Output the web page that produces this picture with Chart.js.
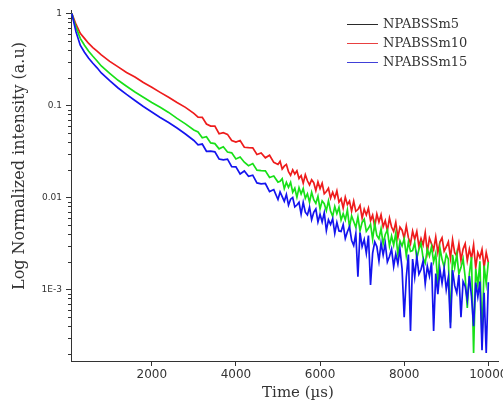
<!DOCTYPE html>
<html><head><meta charset="utf-8">
<script src="https://cdn.jsdelivr.net/npm/chart.js@4.4.1/dist/chart.umd.min.js"></script>
<style>html,body{margin:0;padding:0;background:#fff;overflow:hidden}</style>
</head><body>
<canvas id="c" width="503" height="405"></canvas>
<script>
const times = [100,150,200,300,400,500,600,700,800,1000,1200,1400,1600,1800,2000,2200,2400,2600,2800,3000,
3100,3200,3300,3400,3500,3600,3700,3800,3900,4000,4100,4200,4300,4400,4500,4600,4700,4800,4900,
5000,5050,5100,5150,5200,5250,5300,5350,5400,5450,
5500,5550,5600,5650,5700,5750,5800,5850,5900,5950,
6000,6050,6100,6150,6200,6250,6300,6350,6400,6450,
6500,6550,6600,6650,6700,6750,6800,6850,6900,6950,
7000,7050,7100,7150,7200,7250,7300,7350,7400,7450,
7500,7550,7600,7650,7700,7750,7800,7850,7900,7950,
8000,8050,8100,8150,8200,8250,8300,8350,8400,8450,
8500,8550,8600,8650,8700,8750,8800,8850,8900,8950,
9000,9050,9100,9150,9200,9250,9300,9350,9400,9450,
9500,9550,9600,9650,9700,9750,9800,9850,9900,9950,
10000];

const redValues = [1.0,0.87,0.76,0.61,0.537,0.473,0.427,0.389,0.355,0.302,0.263,0.229,0.204,0.178,0.158,0.139,0.123,0.108,0.0955,0.0822,
0.0748,0.0743,0.0630,0.0598,0.0596,0.0493,0.0506,0.0486,0.0417,0.0400,0.0416,0.0352,0.0349,0.0347,0.0293,0.0305,0.0270,0.0288,0.0241,
0.0229,0.0248,0.0204,0.0219,0.0229,0.0191,0.0174,0.0200,0.0180,0.0195,
0.0161,0.0173,0.0143,0.0177,0.0152,0.0137,0.0156,0.0145,0.0119,0.0148,
0.0125,0.0143,0.0110,0.0116,0.0126,0.00986,0.0114,0.00986,0.0118,0.00889,
0.00970,0.00766,0.0101,0.00836,0.00916,0.00710,0.00912,0.00708,0.00740,0.00820,
0.00597,0.00746,0.00646,0.00766,0.00560,0.00643,0.00481,0.00662,0.00542,0.00649,
0.00482,0.00560,0.00435,0.00597,0.00478,0.00428,0.00537,0.00366,0.00476,0.00441,
0.00361,0.00491,0.00366,0.00314,0.00432,0.00351,0.00427,0.00294,0.00358,0.00305,
0.00415,0.00255,0.00361,0.00313,0.00270,0.00372,0.00252,0.00328,0.00365,0.00261,
0.00290,0.00330,0.00220,0.00348,0.00252,0.00232,0.00314,0.00207,0.00275,0.00315,
0.00206,0.00275,0.00218,0.00305,0.00172,0.00252,0.00221,0.00273,0.00174,0.00252,
0.00197];

const greenValues = [1.0,0.83,0.71,0.537,0.452,0.389,0.343,0.305,0.269,0.224,0.188,0.162,0.140,0.123,0.108,0.0955,0.0841,0.0724,0.0631,0.0543,
0.0515,0.0446,0.0458,0.0392,0.0385,0.0338,0.0356,0.0312,0.0306,0.0262,0.0276,0.0242,0.0222,0.0234,0.0198,0.0196,0.0195,0.0165,0.0171,
0.0147,0.0150,0.0160,0.0125,0.0146,0.0129,0.0146,0.0114,0.0126,0.0101,
0.0128,0.0109,0.0125,0.00980,0.0110,0.00891,0.0114,0.00946,0.00863,0.0103,
0.00752,0.00920,0.00857,0.00719,0.00918,0.00714,0.00624,0.00800,0.00668,0.00782,
0.00569,0.00667,0.00573,0.00731,0.00476,0.00631,0.00548,0.00473,0.00614,0.00434,
0.00536,0.00581,0.00429,0.00462,0.00512,0.00352,0.00522,0.00386,0.00356,0.00458,
0.00313,0.00397,0.00444,0.00298,0.00382,0.00305,0.00409,0.00240,0.00337,0.00297,
0.00356,0.00234,0.00328,0.00260,0.00265,0.00322,0.00218,0.00272,0.00319,0.00220,
0.00194,0.00274,0.00231,0.00292,0.00200,0.00247,0.00112,0.00282,0.00213,0.00176,
0.00241,0.00214,0.000437,0.00238,0.00173,0.00242,0.00148,0.00173,0.00215,0.00136,
0.000631,0.00150,0.00225,0.000204,0.00168,0.00111,0.00203,0.000282,0.00182,0.00116,
0.00199];

const blueValues = [1.0,0.79,0.63,0.452,0.38,0.327,0.288,0.257,0.226,0.186,0.155,0.132,0.1135,0.0977,0.0851,0.0741,0.0653,0.0569,0.049,0.0417,
0.0374,0.0381,0.0318,0.0319,0.0314,0.0262,0.0256,0.0261,0.0216,0.0215,0.0180,0.0194,0.0170,0.0175,0.0144,0.0141,0.0142,0.0116,0.0122,
0.00951,0.0115,0.0102,0.00908,0.0108,0.00828,0.00959,0.0100,0.00789,0.00828,
0.00885,0.00658,0.00883,0.00692,0.00646,0.00783,0.00573,0.00689,0.00750,0.00541,
0.00658,0.00541,0.00684,0.00437,0.00573,0.00509,0.00589,0.00407,0.00536,0.00433,
0.00428,0.00508,0.00358,0.00425,0.00483,0.00343,0.00301,0.00403,0.00138,0.00416,
0.00292,0.00349,0.00248,0.00386,0.00112,0.00248,0.00330,0.00293,0.00204,0.00319,
0.00237,0.00318,0.00199,0.00228,0.00275,0.00178,0.00243,0.00190,0.00275,0.00167,
0.000501,0.00136,0.00240,0.000355,0.00214,0.00137,0.00229,0.00147,0.00165,0.00205,
0.00115,0.00179,0.00140,0.00197,0.000355,0.00149,0.000889,0.00165,0.00117,0.00169,
0.000998,0.00136,0.000380,0.00162,0.00110,0.000918,0.00144,0.000501,0.00122,0.00108,
0.000769,0.00140,0.000839,0.000398,0.00119,0.000834,0.00122,0.000219,0.000923,0.000204,
0.00120];

const xTicks = [2000,4000,6000,8000,10000];
const yMajorTicks = [1,0.1,0.01,0.001];
const yTickLabels = ['1','0.1','0.01','1E-3'];
const legendNames = ['NPABSSm5','NPABSSm10','NPABSSm15'];
const legendColors = ['#2a2a2a','#e84040','#4040d8'];
const xTitle = 'Time (\u00b5s)';
const yTitle = 'Log Normalized intensity (a.u)';

const AX = '#333';
const pts = vals => times.map((t,i)=>({x:t,y:vals[i]}));

const minorTicks = {
  id:'minorTicks',
  afterDraw(chart){
    const ys = chart.scales.y, ctx = chart.ctx;
    ctx.save(); ctx.strokeStyle = AX; ctx.lineWidth = 1;
    ys.ticks.forEach(t=>{
      if(!t.major){
        const py = Math.round(ys.getPixelForValue(t.value)) + 0.5;
        ctx.beginPath(); ctx.moveTo(ys.right-3, py); ctx.lineTo(ys.right, py); ctx.stroke();
      }
    });
    ctx.restore();
  }
};

const titles = {
  id:'titles',
  afterDraw(chart){
    const ctx = chart.ctx;
    ctx.save();
    ctx.fillStyle = '#333';
    ctx.font = '15px "DejaVu Serif"';
    ctx.textAlign = 'center'; ctx.textBaseline = 'middle';
    ctx.fillText(xTitle, 298, 393);
    ctx.translate(20, 166); ctx.rotate(-Math.PI/2);
    ctx.font = '16px "DejaVu Serif"';
    ctx.fillText(yTitle, 0, 0);
    ctx.restore();
  }
};

const legendPlug = {
  id:'legendPlug',
  afterDraw(chart){
    const ctx = chart.ctx;
    ctx.save();
    ctx.font = '13px "DejaVu Serif"';
    ctx.textAlign = 'left'; ctx.textBaseline = 'middle';
    legendNames.forEach((n,i)=>{
      const y = 24 + i*19;
      ctx.strokeStyle = legendColors[i]; ctx.lineWidth = 1;
      ctx.beginPath(); ctx.moveTo(347, y+0.5); ctx.lineTo(378, y+0.5); ctx.stroke();
      ctx.fillStyle = '#333';
      ctx.fillText(n, 383, y+1);
    });
    ctx.restore();
  }
};

new Chart(document.getElementById('c'), {
  type:'line',
  data:{
    datasets:[
      {label:'NPABSSm10', data:pts(redValues), borderColor:'#ee1c1c', borderWidth:1.7, order:3},
      {label:'NPABSSm5', data:pts(greenValues), borderColor:'#18e018', borderWidth:1.7, order:2},
      {label:'NPABSSm15', data:pts(blueValues), borderColor:'#1414ee', borderWidth:1.7, order:1}
    ]
  },
  options:{
    responsive:false, animation:false, devicePixelRatio:1,
    layout:{padding:{top:10,right:5,left:0,bottom:0}},
    elements:{point:{radius:0}, line:{tension:0, fill:false}},
    plugins:{legend:{display:false}, tooltip:{enabled:false}},
    scales:{
      x:{
        type:'linear', min:80, max:10230,
        afterBuildTicks:s=>{ s.ticks = xTicks.map(v=>({value:v})); },
        afterFit:s=>{ s.height = 44; s.paddingLeft = 0; s.paddingRight = 0; },
        grid:{drawOnChartArea:false, drawTicks:true, tickLength:5, color:AX, tickColor:AX},
        border:{display:true, color:AX, width:1},
        ticks:{font:{family:'DejaVu Sans', size:12}, color:'#333', padding:2, maxRotation:0, autoSkip:false,
          callback:v=>String(v)}
      },
      y:{
        type:'logarithmic', min:1.67e-4, max:1.092,
        afterBuildTicks:s=>{
          const arr = [];
          yMajorTicks.concat([0.0001]).forEach(m=>{
            for(let k=1;k<=9;k++){
              const v = k===1 ? m : k*m;
              if(v>=s.min && v<=s.max) arr.push({value:v, major:k===1});
            }
          });
          arr.sort((a,b)=>a.value-b.value);
          s.ticks = arr;
        },
        afterFit:s=>{ s.width = 71; s.paddingTop = 0; s.paddingBottom = 0; },
        grid:{drawOnChartArea:false, drawTicks:true, tickLength:5, color:AX,
          tickColor:c=> (c.tick && c.tick.major) ? AX : 'rgba(0,0,0,0)'},
        border:{display:true, color:AX, width:1},
        ticks:{font:{family:'DejaVu Sans', size:9}, color:'#333', padding:4, autoSkip:false,
          callback:(v)=>{ const k = yMajorTicks.indexOf(v); return k>=0 ? yTickLabels[k] : ''; }}
      }
    }
  },
  plugins:[minorTicks, titles, legendPlug]
});
</script>
</body></html>
